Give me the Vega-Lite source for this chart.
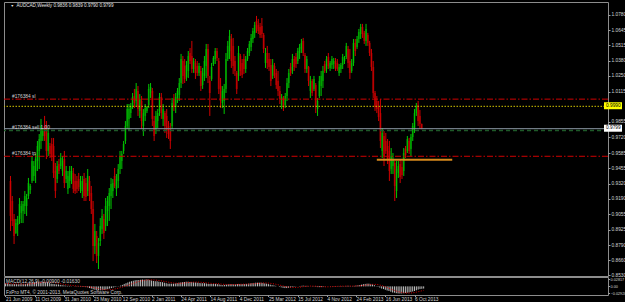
{
"$schema":"https://vega.github.io/schema/vega-lite/v6.json",
"background":"#000000",
"padding":{"left":2,"top":1,"right":0,"bottom":0},
"bounds":"flush",
"spacing":1,
"config":{"view":{"stroke":"#8c8c8c","strokeWidth":1},"font":"Liberation Sans","axis":{"labelFont":"Liberation Sans","labelFontSize":4.8,"labelColor":"#d4d4d4","tickColor":"#a0a0a0","domain":false,"grid":false,"labelOverlap":false,"labelFlush":false,"labelBound":false},"text":{"font":"Liberation Sans"}},
"datasets":{"w":[
{"d":"2009-06-21","o":0.9344,"h":0.9387,"l":0.8912,"c":0.9042,"m":0.012,"s":0.011},
{"d":"2009-06-28","o":0.9171,"h":0.9214,"l":0.8955,"c":0.8999,"m":0.012,"s":0.011},
{"d":"2009-07-05","o":0.9016,"h":0.9059,"l":0.8800,"c":0.8869,"m":0.010,"s":0.011},
{"d":"2009-07-12","o":0.8895,"h":0.9016,"l":0.8887,"c":0.8981,"m":0.009,"s":0.011},
{"d":"2009-07-19","o":0.8964,"h":0.9042,"l":0.8869,"c":0.9016,"m":0.009,"s":0.010},
{"d":"2009-07-26","o":0.9016,"h":0.9197,"l":0.8973,"c":0.9145,"m":0.009,"s":0.010},
{"d":"2009-08-02","o":0.9068,"h":0.9171,"l":0.8981,"c":0.9128,"m":0.009,"s":0.010},
{"d":"2009-08-09","o":0.9085,"h":0.9171,"l":0.8981,"c":0.9145,"m":0.009,"s":0.010},
{"d":"2009-08-16","o":0.9128,"h":0.9257,"l":0.9059,"c":0.9214,"m":0.009,"s":0.010},
{"d":"2009-08-23","o":0.9128,"h":0.9232,"l":0.9042,"c":0.9197,"m":0.009,"s":0.0094},
{"d":"2009-08-30","o":0.9214,"h":0.9370,"l":0.9188,"c":0.9326,"m":0.010,"s":0.0092},
{"d":"2009-09-06","o":0.9266,"h":0.9318,"l":0.9232,"c":0.9301,"m":0.010,"s":0.0092},
{"d":"2009-09-13","o":0.9344,"h":0.9559,"l":0.9326,"c":0.9516,"m":0.011,"s":0.0094},
{"d":"2009-09-20","o":0.9387,"h":0.9516,"l":0.9344,"c":0.9473,"m":0.013,"s":0.0099},
{"d":"2009-09-27","o":0.9430,"h":0.9577,"l":0.9326,"c":0.9533,"m":0.014,"s":0.0104},
{"d":"2009-10-04","o":0.9516,"h":0.9689,"l":0.9430,"c":0.9646,"m":0.016,"s":0.0112},
{"d":"2009-10-11","o":0.9603,"h":0.9749,"l":0.9447,"c":0.9706,"m":0.017,"s":0.0121},
{"d":"2009-10-18","o":0.9689,"h":0.9879,"l":0.9620,"c":0.9818,"m":0.019,"s":0.0132},
{"d":"2009-10-25","o":0.9732,"h":0.9801,"l":0.9689,"c":0.9775,"m":0.019,"s":0.0143},
{"d":"2009-11-01","o":0.9818,"h":0.9905,"l":0.9689,"c":0.9732,"m":0.019,"s":0.0153},
{"d":"2009-11-08","o":0.9792,"h":0.9861,"l":0.9533,"c":0.9603,"m":0.018,"s":0.0162},
{"d":"2009-11-15","o":0.9603,"h":0.9801,"l":0.9559,"c":0.9758,"m":0.018,"s":0.0170},
{"d":"2009-11-22","o":0.9646,"h":0.9672,"l":0.9542,"c":0.9577,"m":0.017,"s":0.0174},
{"d":"2009-11-29","o":0.9663,"h":0.9715,"l":0.9516,"c":0.9559,"m":0.016,"s":0.0177},
{"d":"2009-12-06","o":0.9646,"h":0.9715,"l":0.9370,"c":0.9413,"m":0.014,"s":0.0174},
{"d":"2009-12-13","o":0.9430,"h":0.9499,"l":0.9197,"c":0.9257,"m":0.011,"s":0.0168},
{"d":"2009-12-20","o":0.9361,"h":0.9516,"l":0.9326,"c":0.9473,"m":0.010,"s":0.0158},
{"d":"2009-12-27","o":0.9490,"h":0.9533,"l":0.9404,"c":0.9430,"m":0.009,"s":0.0147},
{"d":"2010-01-03","o":0.9473,"h":0.9585,"l":0.9447,"c":0.9542,"m":0.008,"s":0.0134},
{"d":"2010-01-10","o":0.9430,"h":0.9559,"l":0.9387,"c":0.9516,"m":0.008,"s":0.0123},
{"d":"2010-01-17","o":0.9533,"h":0.9603,"l":0.9283,"c":0.9326,"m":0.006,"s":0.011},
{"d":"2010-01-24","o":0.9361,"h":0.9473,"l":0.9326,"c":0.9430,"m":0.005,"s":0.0097},
{"d":"2010-01-31","o":0.9275,"h":0.9430,"l":0.9232,"c":0.9387,"m":0.004,"s":0.0083},
{"d":"2010-02-07","o":0.9344,"h":0.9473,"l":0.9283,"c":0.9430,"m":0.003,"s":0.0071},
{"d":"2010-02-14","o":0.9361,"h":0.9473,"l":0.9318,"c":0.9430,"m":0.002,"s":0.0061},
{"d":"2010-02-21","o":0.9413,"h":0.9456,"l":0.9240,"c":0.9275,"m":0.002,"s":0.0052},
{"d":"2010-02-28","o":0.9344,"h":0.9404,"l":0.9232,"c":0.9257,"m":0.001,"s":0.0043},
{"d":"2010-03-07","o":0.9344,"h":0.9387,"l":0.9240,"c":0.9275,"m":0.0,"s":0.0034},
{"d":"2010-03-14","o":0.9361,"h":0.9413,"l":0.9257,"c":0.9292,"m":-0.001,"s":0.0024},
{"d":"2010-03-21","o":0.9275,"h":0.9387,"l":0.9240,"c":0.9344,"m":-0.001,"s":0.0017},
{"d":"2010-03-28","o":0.9257,"h":0.9387,"l":0.9197,"c":0.9344,"m":-0.001,"s":0.001},
{"d":"2010-04-04","o":0.9361,"h":0.9413,"l":0.9171,"c":0.9214,"m":-0.002,"s":0.0003},
{"d":"2010-04-11","o":0.9326,"h":0.9370,"l":0.9171,"c":0.9206,"m":-0.002,"s":-0.0002},
{"d":"2010-04-18","o":0.9257,"h":0.9447,"l":0.9214,"c":0.9387,"m":-0.002,"s":-0.0007},
{"d":"2010-04-25","o":0.9344,"h":0.9387,"l":0.9171,"c":0.9214,"m":-0.003,"s":-0.0012},
{"d":"2010-05-02","o":0.9240,"h":0.9301,"l":0.9059,"c":0.9102,"m":-0.004,"s":-0.0018},
{"d":"2010-05-09","o":0.9102,"h":0.9171,"l":0.8653,"c":0.8783,"m":-0.007,"s":-0.0026},
{"d":"2010-05-16","o":0.8783,"h":0.8973,"l":0.8714,"c":0.8912,"m":-0.009,"s":-0.0034},
{"d":"2010-05-23","o":0.8869,"h":0.8912,"l":0.8636,"c":0.8697,"m":-0.012,"s":-0.0047},
{"d":"2010-05-30","o":0.8697,"h":0.8852,"l":0.8584,"c":0.8809,"m":-0.014,"s":-0.0061},
{"d":"2010-06-06","o":0.8826,"h":0.9024,"l":0.8783,"c":0.8955,"m":-0.015,"s":-0.0076},
{"d":"2010-06-13","o":0.8930,"h":0.9102,"l":0.8887,"c":0.9042,"m":-0.016,"s":-0.0091},
{"d":"2010-06-20","o":0.9016,"h":0.9059,"l":0.8843,"c":0.8895,"m":-0.016,"s":-0.0107},
{"d":"2010-06-27","o":0.8955,"h":0.9197,"l":0.8912,"c":0.9128,"m":-0.016,"s":-0.0121},
{"d":"2010-07-04","o":0.9085,"h":0.9214,"l":0.8955,"c":0.9171,"m":-0.015,"s":-0.0133},
{"d":"2010-07-11","o":0.9128,"h":0.9283,"l":0.8999,"c":0.9240,"m":-0.013,"s":-0.014},
{"d":"2010-07-18","o":0.9214,"h":0.9370,"l":0.9102,"c":0.9318,"m":-0.011,"s":-0.0142},
{"d":"2010-07-25","o":0.9257,"h":0.9361,"l":0.9197,"c":0.9326,"m":-0.009,"s":-0.0139},
{"d":"2010-08-01","o":0.9387,"h":0.9456,"l":0.9283,"c":0.9301,"m":-0.007,"s":-0.0131},
{"d":"2010-08-08","o":0.9275,"h":0.9404,"l":0.9214,"c":0.9361,"m":-0.005,"s":-0.012},
{"d":"2010-08-15","o":0.9344,"h":0.9490,"l":0.9283,"c":0.9447,"m":-0.003,"s":-0.0106},
{"d":"2010-08-22","o":0.9447,"h":0.9603,"l":0.9404,"c":0.9559,"m":-0.001,"s":-0.0089},
{"d":"2010-08-29","o":0.9516,"h":0.9603,"l":0.9447,"c":0.9577,"m":0.001,"s":-0.007},
{"d":"2010-09-05","o":0.9603,"h":0.9689,"l":0.9577,"c":0.9663,"m":0.003,"s":-0.005},
{"d":"2010-09-12","o":0.9689,"h":0.9861,"l":0.9663,"c":0.9818,"m":0.006,"s":-0.0029},
{"d":"2010-09-19","o":0.9818,"h":1.0008,"l":0.9792,"c":0.9965,"m":0.010,"s":-0.0006},
{"d":"2010-09-26","o":0.9879,"h":1.0008,"l":0.9775,"c":0.9965,"m":0.013,"s":0.0019},
{"d":"2010-10-03","o":0.9930,"h":1.0017,"l":0.9887,"c":0.9991,"m":0.016,"s":0.0044},
{"d":"2010-10-10","o":0.9991,"h":1.0103,"l":0.9965,"c":1.0069,"m":0.019,"s":0.0071},
{"d":"2010-10-17","o":1.0077,"h":1.0138,"l":0.9973,"c":1.0017,"m":0.021,"s":0.0098},
{"d":"2010-10-24","o":1.0034,"h":1.0189,"l":0.9991,"c":1.0138,"m":0.023,"s":0.0124},
{"d":"2010-10-31","o":1.0120,"h":1.0163,"l":0.9905,"c":0.9965,"m":0.025,"s":0.0151},
{"d":"2010-11-07","o":0.9948,"h":1.0094,"l":0.9887,"c":1.0051,"m":0.026,"s":0.0177},
{"d":"2010-11-14","o":1.0034,"h":1.0077,"l":0.9792,"c":0.9861,"m":0.026,"s":0.0199},
{"d":"2010-11-21","o":0.9818,"h":0.9965,"l":0.9732,"c":0.9930,"m":0.027,"s":0.0218},
{"d":"2010-11-28","o":0.9905,"h":1.0008,"l":0.9861,"c":0.9973,"m":0.028,"s":0.0234},
{"d":"2010-12-05","o":0.9948,"h":0.9991,"l":0.9930,"c":0.9982,"m":0.027,"s":0.0247},
{"d":"2010-12-12","o":0.9999,"h":1.0181,"l":0.9973,"c":1.0138,"m":0.02817,"s":0.0257},
{"d":"2010-12-19","o":1.0103,"h":1.0189,"l":1.0060,"c":1.0155,"m":0.028,"s":0.0264},
{"d":"2010-12-26","o":1.0120,"h":1.0146,"l":0.9818,"c":0.9879,"m":0.026,"s":0.0268},
{"d":"2011-01-02","o":0.9861,"h":0.9905,"l":0.9689,"c":0.9732,"m":0.024,"s":0.0267},
{"d":"2011-01-09","o":0.9792,"h":0.9948,"l":0.9749,"c":0.9905,"m":0.022,"s":0.0262},
{"d":"2011-01-16","o":0.9861,"h":0.9965,"l":0.9801,"c":0.9930,"m":0.021,"s":0.0257},
{"d":"2011-01-23","o":0.9948,"h":1.0103,"l":0.9905,"c":1.0069,"m":0.021,"s":0.025},
{"d":"2011-01-30","o":1.0069,"h":1.0103,"l":0.9879,"c":0.9930,"m":0.019,"s":0.024},
{"d":"2011-02-06","o":0.9879,"h":1.0008,"l":0.9818,"c":0.9965,"m":0.018,"s":0.023},
{"d":"2011-02-13","o":0.9930,"h":0.9948,"l":0.9758,"c":0.9818,"m":0.017,"s":0.0218},
{"d":"2011-02-20","o":0.9905,"h":0.9965,"l":0.9715,"c":0.9775,"m":0.015,"s":0.0203},
{"d":"2011-02-27","o":0.9818,"h":0.9861,"l":0.9706,"c":0.9749,"m":0.013,"s":0.0189},
{"d":"2011-03-06","o":0.9792,"h":0.9844,"l":0.9620,"c":0.9689,"m":0.011,"s":0.0174},
{"d":"2011-03-13","o":0.9818,"h":1.0060,"l":0.9792,"c":1.0017,"m":0.011,"s":0.0162},
{"d":"2011-03-20","o":1.0051,"h":1.0094,"l":0.9948,"c":0.9982,"m":0.011,"s":0.0151},
{"d":"2011-03-27","o":0.9982,"h":1.0103,"l":0.9930,"c":1.0069,"m":0.011,"s":0.014},
{"d":"2011-04-03","o":1.0051,"h":1.0146,"l":1.0017,"c":1.0120,"m":0.012,"s":0.0132},
{"d":"2011-04-10","o":1.0086,"h":1.0232,"l":1.0034,"c":1.0189,"m":0.013,"s":0.0127},
{"d":"2011-04-17","o":1.0189,"h":1.0440,"l":1.0146,"c":1.0396,"m":0.015,"s":0.0124},
{"d":"2011-04-24","o":1.0379,"h":1.0422,"l":1.0181,"c":1.0250,"m":0.016,"s":0.0126},
{"d":"2011-05-01","o":1.0336,"h":1.0396,"l":1.0189,"c":1.0224,"m":0.017,"s":0.013},
{"d":"2011-05-08","o":1.0241,"h":1.0379,"l":1.0207,"c":1.0345,"m":0.018,"s":0.0138},
{"d":"2011-05-15","o":1.0293,"h":1.0465,"l":1.0232,"c":1.0422,"m":0.019,"s":0.0147},
{"d":"2011-05-22","o":1.0448,"h":1.0491,"l":1.0353,"c":1.0379,"m":0.019,"s":0.0156},
{"d":"2011-05-29","o":1.0422,"h":1.0552,"l":1.0276,"c":1.0310,"m":0.018,"s":0.0163},
{"d":"2011-06-05","o":1.0310,"h":1.0405,"l":1.0276,"c":1.0379,"m":0.018,"s":0.017},
{"d":"2011-06-12","o":1.0362,"h":1.0396,"l":1.0224,"c":1.0276,"m":0.017,"s":0.0174},
{"d":"2011-06-19","o":1.0336,"h":1.0379,"l":1.0250,"c":1.0276,"m":0.016,"s":0.0176},
{"d":"2011-06-26","o":1.0276,"h":1.0362,"l":1.0250,"c":1.0336,"m":0.015,"s":0.0174},
{"d":"2011-07-03","o":1.0293,"h":1.0336,"l":1.0120,"c":1.0163,"m":0.014,"s":0.0171},
{"d":"2011-07-10","o":1.0172,"h":1.0319,"l":1.0138,"c":1.0276,"m":0.013,"s":0.0166},
{"d":"2011-07-17","o":1.0250,"h":1.0422,"l":1.0207,"c":1.0379,"m":0.013,"s":0.0159},
{"d":"2011-07-24","o":1.0336,"h":1.0526,"l":1.0232,"c":1.0483,"m":0.013,"s":0.0152},
{"d":"2011-07-31","o":1.0483,"h":1.0526,"l":1.0189,"c":1.0250,"m":0.012,"s":0.0146},
{"d":"2011-08-07","o":1.0207,"h":1.0250,"l":0.9905,"c":1.0103,"m":0.010,"s":0.0137},
{"d":"2011-08-14","o":1.0224,"h":1.0362,"l":1.0207,"c":1.0327,"m":0.010,"s":0.0129},
{"d":"2011-08-21","o":1.0353,"h":1.0422,"l":1.0336,"c":1.0405,"m":0.010,"s":0.0122},
{"d":"2011-08-28","o":1.0396,"h":1.0491,"l":1.0353,"c":1.0465,"m":0.010,"s":0.0117},
{"d":"2011-09-04","o":1.0465,"h":1.0491,"l":1.0379,"c":1.0405,"m":0.010,"s":0.0112},
{"d":"2011-09-11","o":1.0379,"h":1.0405,"l":1.0094,"c":1.0138,"m":0.009,"s":0.0108},
{"d":"2011-09-18","o":1.0163,"h":1.0232,"l":0.9973,"c":1.0034,"m":0.008,"s":0.0102},
{"d":"2011-09-25","o":1.0017,"h":1.0163,"l":0.9973,"c":1.0120,"m":0.006,"s":0.0094},
{"d":"2011-10-02","o":1.0034,"h":1.0181,"l":0.9922,"c":1.0138,"m":0.005,"s":0.0087},
{"d":"2011-10-09","o":1.0138,"h":1.0448,"l":1.0103,"c":1.0396,"m":0.006,"s":0.0082},
{"d":"2011-10-16","o":1.0396,"h":1.0552,"l":1.0379,"c":1.0509,"m":0.007,"s":0.0079},
{"d":"2011-10-23","o":1.0465,"h":1.0647,"l":1.0396,"c":1.0595,"m":0.009,"s":0.0078},
{"d":"2011-10-30","o":1.0569,"h":1.0612,"l":1.0319,"c":1.0379,"m":0.009,"s":0.0077},
{"d":"2011-11-06","o":1.0509,"h":1.0578,"l":1.0267,"c":1.0336,"m":0.009,"s":0.0076},
{"d":"2011-11-13","o":1.0379,"h":1.0422,"l":1.0250,"c":1.0293,"m":0.009,"s":0.0076},
{"d":"2011-11-20","o":1.0276,"h":1.0293,"l":1.0094,"c":1.0138,"m":0.008,"s":0.0076},
{"d":"2011-11-27","o":1.0250,"h":1.0509,"l":1.0207,"c":1.0448,"m":0.009,"s":0.0079},
{"d":"2011-12-04","o":1.0422,"h":1.0440,"l":1.0250,"c":1.0293,"m":0.009,"s":0.0083},
{"d":"2011-12-11","o":1.0362,"h":1.0396,"l":1.0232,"c":1.0258,"m":0.009,"s":0.0087},
{"d":"2011-12-18","o":1.0396,"h":1.0440,"l":1.0267,"c":1.0310,"m":0.009,"s":0.0089},
{"d":"2011-12-25","o":1.0310,"h":1.0422,"l":1.0276,"c":1.0396,"m":0.009,"s":0.0089},
{"d":"2012-01-01","o":1.0396,"h":1.0491,"l":1.0379,"c":1.0465,"m":0.010,"s":0.009},
{"d":"2012-01-08","o":1.0448,"h":1.0552,"l":1.0422,"c":1.0526,"m":0.011,"s":0.0092},
{"d":"2012-01-15","o":1.0500,"h":1.0612,"l":1.0465,"c":1.0578,"m":0.012,"s":0.0096},
{"d":"2012-01-22","o":1.0569,"h":1.0664,"l":1.0535,"c":1.0638,"m":0.013,"s":0.0101},
{"d":"2012-01-29","o":1.0621,"h":1.0716,"l":1.0578,"c":1.0690,"m":0.014,"s":0.0107},
{"d":"2012-02-05","o":1.0724,"h":1.0768,"l":1.0621,"c":1.0655,"m":0.015,"s":0.0113},
{"d":"2012-02-12","o":1.0690,"h":1.0742,"l":1.0612,"c":1.0638,"m":0.015,"s":0.012},
{"d":"2012-02-19","o":1.0673,"h":1.0707,"l":1.0578,"c":1.0604,"m":0.015,"s":0.0127},
{"d":"2012-02-26","o":1.0681,"h":1.0750,"l":1.0578,"c":1.0612,"m":0.015,"s":0.0133},
{"d":"2012-03-04","o":1.0604,"h":1.0621,"l":1.0448,"c":1.0483,"m":0.014,"s":0.0138},
{"d":"2012-03-11","o":1.0362,"h":1.0491,"l":1.0319,"c":1.0448,"m":0.012,"s":0.0139},
{"d":"2012-03-18","o":1.0448,"h":1.0509,"l":1.0310,"c":1.0362,"m":0.011,"s":0.0138},
{"d":"2012-03-25","o":1.0396,"h":1.0448,"l":1.0293,"c":1.0327,"m":0.009,"s":0.0133},
{"d":"2012-04-01","o":1.0345,"h":1.0396,"l":1.0163,"c":1.0207,"m":0.007,"s":0.0126},
{"d":"2012-04-08","o":1.0250,"h":1.0396,"l":1.0224,"c":1.0345,"m":0.005,"s":0.0114},
{"d":"2012-04-15","o":1.0336,"h":1.0362,"l":1.0232,"c":1.0258,"m":0.004,"s":0.0102},
{"d":"2012-04-22","o":1.0276,"h":1.0310,"l":1.0138,"c":1.0172,"m":0.002,"s":0.0088},
{"d":"2012-04-29","o":1.0207,"h":1.0293,"l":1.0077,"c":1.0120,"m":0.0,"s":0.0071},
{"d":"2012-05-06","o":1.0120,"h":1.0163,"l":1.0008,"c":1.0051,"m":-0.002,"s":0.0053},
{"d":"2012-05-13","o":0.9999,"h":1.0094,"l":0.9965,"c":1.0069,"m":-0.004,"s":0.0036},
{"d":"2012-05-20","o":1.0060,"h":1.0077,"l":0.9948,"c":0.9982,"m":-0.006,"s":0.0017},
{"d":"2012-05-27","o":0.9999,"h":1.0103,"l":0.9973,"c":1.0077,"m":-0.007,"s":-0.0001},
{"d":"2012-06-03","o":1.0077,"h":1.0232,"l":1.0034,"c":1.0189,"m":-0.007,"s":-0.0017},
{"d":"2012-06-10","o":1.0189,"h":1.0310,"l":1.0146,"c":1.0276,"m":-0.006,"s":-0.0029},
{"d":"2012-06-17","o":1.0327,"h":1.0362,"l":1.0250,"c":1.0276,"m":-0.005,"s":-0.0039},
{"d":"2012-06-24","o":1.0293,"h":1.0440,"l":1.0267,"c":1.0396,"m":-0.003,"s":-0.0044},
{"d":"2012-07-01","o":1.0396,"h":1.0422,"l":1.0293,"c":1.0327,"m":-0.002,"s":-0.0047},
{"d":"2012-07-08","o":1.0414,"h":1.0448,"l":1.0319,"c":1.0353,"m":-0.001,"s":-0.0046},
{"d":"2012-07-15","o":1.0379,"h":1.0491,"l":1.0353,"c":1.0465,"m":0.0,"s":-0.0041},
{"d":"2012-07-22","o":1.0448,"h":1.0526,"l":1.0396,"c":1.0500,"m":0.001,"s":-0.0033},
{"d":"2012-07-29","o":1.0483,"h":1.0569,"l":1.0448,"c":1.0535,"m":0.002,"s":-0.0023},
{"d":"2012-08-05","o":1.0552,"h":1.0578,"l":1.0422,"c":1.0448,"m":0.003,"s":-0.0012},
{"d":"2012-08-12","o":1.0431,"h":1.0448,"l":1.0276,"c":1.0310,"m":0.002,"s":-0.0003},
{"d":"2012-08-19","o":1.0310,"h":1.0422,"l":1.0276,"c":1.0396,"m":0.002,"s":0.0004},
{"d":"2012-08-26","o":1.0327,"h":1.0336,"l":1.0163,"c":1.0207,"m":0.001,"s":0.0009},
{"d":"2012-09-02","o":1.0120,"h":1.0250,"l":1.0060,"c":1.0207,"m":0.0,"s":0.0011},
{"d":"2012-09-09","o":1.0207,"h":1.0224,"l":1.0077,"c":1.0103,"m":-0.001,"s":0.0011},
{"d":"2012-09-16","o":1.0138,"h":1.0250,"l":1.0120,"c":1.0224,"m":-0.001,"s":0.001},
{"d":"2012-09-23","o":1.0172,"h":1.0189,"l":0.9930,"c":0.9991,"m":-0.002,"s":0.0007},
{"d":"2012-09-30","o":0.9965,"h":1.0060,"l":0.9905,"c":1.0034,"m":-0.003,"s":0.0001},
{"d":"2012-10-07","o":1.0077,"h":1.0250,"l":1.0060,"c":1.0207,"m":-0.003,"s":-0.0006},
{"d":"2012-10-14","o":1.0163,"h":1.0293,"l":1.0077,"c":1.0250,"m":-0.003,"s":-0.0011},
{"d":"2012-10-21","o":1.0207,"h":1.0336,"l":1.0146,"c":1.0293,"m":-0.002,"s":-0.0016},
{"d":"2012-10-28","o":1.0353,"h":1.0379,"l":1.0276,"c":1.0293,"m":-0.001,"s":-0.0018},
{"d":"2012-11-04","o":1.0310,"h":1.0422,"l":1.0276,"c":1.0396,"m":0.0,"s":-0.0018},
{"d":"2012-11-11","o":1.0414,"h":1.0448,"l":1.0310,"c":1.0336,"m":0.0,"s":-0.0017},
{"d":"2012-11-18","o":1.0319,"h":1.0379,"l":1.0293,"c":1.0362,"m":0.001,"s":-0.0014},
{"d":"2012-11-25","o":1.0345,"h":1.0422,"l":1.0310,"c":1.0396,"m":0.001,"s":-0.0011},
{"d":"2012-12-02","o":1.0353,"h":1.0405,"l":1.0310,"c":1.0379,"m":0.001,"s":-0.0007},
{"d":"2012-12-09","o":1.0379,"h":1.0405,"l":1.0293,"c":1.0319,"m":0.001,"s":-0.0002},
{"d":"2012-12-16","o":1.0362,"h":1.0396,"l":1.0293,"c":1.0310,"m":0.001,"s":0.0002},
{"d":"2012-12-23","o":1.0276,"h":1.0353,"l":1.0250,"c":1.0327,"m":0.001,"s":0.0006},
{"d":"2012-12-30","o":1.0310,"h":1.0362,"l":1.0276,"c":1.0345,"m":0.001,"s":0.0008},
{"d":"2013-01-06","o":1.0345,"h":1.0440,"l":1.0310,"c":1.0414,"m":0.001,"s":0.0009},
{"d":"2013-01-13","o":1.0379,"h":1.0422,"l":1.0353,"c":1.0405,"m":0.001,"s":0.001},
{"d":"2013-01-20","o":1.0414,"h":1.0535,"l":1.0396,"c":1.0509,"m":0.002,"s":0.0011},
{"d":"2013-01-27","o":1.0483,"h":1.0509,"l":1.0319,"c":1.0362,"m":0.002,"s":0.0012},
{"d":"2013-02-03","o":1.0379,"h":1.0483,"l":1.0224,"c":1.0276,"m":0.001,"s":0.0012},
{"d":"2013-02-10","o":1.0293,"h":1.0396,"l":1.0276,"c":1.0362,"m":0.001,"s":0.0012},
{"d":"2013-02-17","o":1.0362,"h":1.0569,"l":1.0336,"c":1.0535,"m":0.002,"s":0.0013},
{"d":"2013-02-24","o":1.0535,"h":1.0569,"l":1.0422,"c":1.0465,"m":0.003,"s":0.0016},
{"d":"2013-03-03","o":1.0500,"h":1.0595,"l":1.0483,"c":1.0569,"m":0.004,"s":0.0019},
{"d":"2013-03-10","o":1.0569,"h":1.0655,"l":1.0535,"c":1.0629,"m":0.005,"s":0.0023},
{"d":"2013-03-17","o":1.0612,"h":1.0699,"l":1.0569,"c":1.0673,"m":0.007,"s":0.003},
{"d":"2013-03-24","o":1.0673,"h":1.0699,"l":1.0578,"c":1.0612,"m":0.009,"s":0.0038},
{"d":"2013-03-31","o":1.0621,"h":1.0638,"l":1.0526,"c":1.0552,"m":0.010,"s":0.0047},
{"d":"2013-04-07","o":1.0552,"h":1.0699,"l":1.0509,"c":1.0655,"m":0.011,"s":0.0058},
{"d":"2013-04-14","o":1.0604,"h":1.0621,"l":1.0509,"c":1.0535,"m":0.011,"s":0.0069},
{"d":"2013-04-21","o":1.0535,"h":1.0552,"l":1.0422,"c":1.0448,"m":0.010,"s":0.0078},
{"d":"2013-04-28","o":1.0448,"h":1.0483,"l":1.0293,"c":1.0327,"m":0.008,"s":0.0083},
{"d":"2013-05-05","o":1.0327,"h":1.0379,"l":1.0060,"c":1.0103,"m":0.005,"s":0.0084},
{"d":"2013-05-12","o":1.0103,"h":1.0120,"l":0.9948,"c":0.9982,"m":0.001,"s":0.008},
{"d":"2013-05-19","o":1.0034,"h":1.0077,"l":0.9930,"c":0.9965,"m":-0.002,"s":0.007},
{"d":"2013-05-26","o":0.9982,"h":1.0034,"l":0.9861,"c":0.9896,"m":-0.005,"s":0.0054},
{"d":"2013-06-02","o":0.9930,"h":1.0051,"l":0.9628,"c":0.9689,"m":-0.009,"s":0.0033},
{"d":"2013-06-09","o":0.9603,"h":0.9801,"l":0.9542,"c":0.9758,"m":-0.011,"s":0.0009},
{"d":"2013-06-16","o":0.9732,"h":0.9775,"l":0.9473,"c":0.9559,"m":-0.014,"s":-0.0019},
{"d":"2013-06-23","o":0.9689,"h":0.9758,"l":0.9577,"c":0.9603,"m":-0.017,"s":-0.0049},
{"d":"2013-06-30","o":0.9646,"h":0.9706,"l":0.9490,"c":0.9533,"m":-0.019,"s":-0.0079},
{"d":"2013-07-07","o":0.9603,"h":0.9689,"l":0.9344,"c":0.9430,"m":-0.022,"s":-0.0109},
{"d":"2013-07-14","o":0.9447,"h":0.9628,"l":0.9404,"c":0.9559,"m":-0.025,"s":-0.0138},
{"d":"2013-07-21","o":0.9473,"h":0.9585,"l":0.9404,"c":0.9533,"m":-0.026,"s":-0.0164},
{"d":"2013-07-28","o":0.9499,"h":0.9516,"l":0.9171,"c":0.9301,"m":-0.028,"s":-0.019},
{"d":"2013-08-04","o":0.9257,"h":0.9516,"l":0.9197,"c":0.9447,"m":-0.029,"s":-0.0212},
{"d":"2013-08-11","o":0.9413,"h":0.9516,"l":0.9370,"c":0.9473,"m":-0.0292,"s":-0.0232},
{"d":"2013-08-18","o":0.9490,"h":0.9533,"l":0.9326,"c":0.9378,"m":-0.029,"s":-0.0249},
{"d":"2013-08-25","o":0.9464,"h":0.9516,"l":0.9361,"c":0.9395,"m":-0.028,"s":-0.0261},
{"d":"2013-09-01","o":0.9430,"h":0.9628,"l":0.9387,"c":0.9585,"m":-0.027,"s":-0.027},
{"d":"2013-09-08","o":0.9620,"h":0.9646,"l":0.9542,"c":0.9568,"m":-0.026,"s":-0.0274},
{"d":"2013-09-15","o":0.9603,"h":0.9732,"l":0.9585,"c":0.9706,"m":-0.025,"s":-0.0274},
{"d":"2013-09-22","o":0.9689,"h":0.9715,"l":0.9577,"c":0.9603,"m":-0.023,"s":-0.0271},
{"d":"2013-09-29","o":0.9620,"h":0.9749,"l":0.9559,"c":0.9723,"m":-0.021,"s":-0.0263},
{"d":"2013-10-06","o":0.9723,"h":0.9844,"l":0.9689,"c":0.9818,"m":-0.019,"s":-0.0252},
{"d":"2013-10-13","o":0.9792,"h":0.9965,"l":0.9758,"c":0.9930,"m":-0.016,"s":-0.0238},
{"d":"2013-10-20","o":0.9930,"h":1.0017,"l":0.9905,"c":0.9991,"m":-0.013,"s":-0.022},
{"d":"2013-10-27","o":0.9999,"h":1.0034,"l":0.9818,"c":0.9861,"m":-0.011,"s":-0.0201},
{"d":"2013-11-03","o":0.9905,"h":0.9956,"l":0.9792,"c":0.9836,"m":-0.010,"s":-0.0182},
{"d":"2013-11-10","o":0.9836,"h":0.9839,"l":0.9790,"c":0.9799,"m":-0.009,"s":-0.0163}
]},
"vconcat":[
{
"width":604,"height":274,
"data":{"name":"w"},
"resolve":{"axis":{"x":"independent","y":"independent"}},
"layer":[
{"mark":{"type":"bar","width":2},
 "encoding":{
  "x":{"field":"d","type":"temporal","scale":{"type":"utc","domain":[{"year":2009,"month":6,"date":15,"hours":6,"utc":true},{"year":2015,"month":10,"date":17,"hours":15,"minutes":36,"utc":true}]},"axis":null},
  "y":{"field":"o","type":"quantitative","title":null,"scale":{"domain":[0.8524,1.0888],"nice":false,"zero":false},
       "axis":{"orient":"right","values":[1.078,1.0645,1.0515,1.038,1.025,1.0115,0.9855,0.972,0.9585,0.9455,0.932,0.919,0.9055,0.8925,0.879,0.866,0.853],"format":".4f","tickSize":2,"labelPadding":1,"labelOverlap":false,"labelFlush":false,"labelBound":false,"labelSeparation":0,"title":null}},
  "y2":{"field":"c"},
  "color":{"condition":{"test":"datum.c >= datum.o","value":"#006000"},"value":"#7a0000"}}},
{"mark":{"type":"rule","strokeWidth":1},
 "encoding":{
  "x":{"field":"d","type":"temporal","axis":null},
  "y":{"field":"l","type":"quantitative","axis":null},
  "y2":{"field":"h"},
  "color":{"condition":{"test":"datum.c >= datum.o","value":"#00c800"},"value":"#d20000"}}},
{"data":{"values":[{"p":1.005}]},"mark":{"type":"rule","color":"#d00000","strokeWidth":1,"strokeDash":[6,2,1.5,2]},"encoding":{"y":{"field":"p","type":"quantitative","axis":null}}},
{"data":{"values":[{"p":0.9557}]},"mark":{"type":"rule","color":"#d00000","strokeWidth":1,"strokeDash":[6,2,1.5,2]},"encoding":{"y":{"field":"p","type":"quantitative","axis":null}}},
{"data":{"values":[{"p":0.9988}]},"mark":{"type":"rule","color":"#d2c400","strokeWidth":1,"strokeDash":[1.5,1.5]},"encoding":{"y":{"field":"p","type":"quantitative","axis":null}}},
{"data":{"values":[{"p":0.978}]},"mark":{"type":"rule","color":"#1e5a28","strokeWidth":1.5,"strokeDash":[4,3]},"encoding":{"y":{"field":"p","type":"quantitative","axis":null}}},
{"data":{"values":[{"p":0.9795}]},"mark":{"type":"rule","color":"#8a96a2","strokeWidth":1},"encoding":{"y":{"field":"p","type":"quantitative","axis":null}}},
{"data":{"values":[{"a":"2013-05-19","b":"2014-03-09","p":0.9527}]},"mark":{"type":"rule","color":"#d88a1c","strokeWidth":2},
 "encoding":{"x":{"field":"a","type":"temporal","axis":null},"x2":{"field":"b"},"y":{"field":"p","type":"quantitative","axis":null}}},
{"data":{"values":[{"p":1.005,"t":"#176384 sl"},{"p":0.978,"t":"#176384 sell 1.00"},{"p":0.9557,"t":"#176384 tp"}]},
 "mark":{"type":"text","align":"left","baseline":"bottom","dx":3,"dy":-0.5,"fontSize":4.8,"color":"#cfcfcf"},
 "encoding":{"x":{"datum":{"year":2009,"month":6,"date":15,"hours":6,"utc":true},"type":"temporal","axis":null},"y":{"field":"p","type":"quantitative","axis":null},"text":{"field":"t"}}},
{"data":{"values":[{"t":"▼","p":1.0854}]},
 "mark":{"type":"text","align":"left","baseline":"middle","dx":1.5,"fontSize":3.6,"color":"#e6e6e6"},
 "encoding":{"x":{"datum":{"year":2009,"month":6,"date":15,"hours":6,"utc":true},"type":"temporal","axis":null},"y":{"field":"p","type":"quantitative","axis":null},"text":{"field":"t"}}},
{"data":{"values":[{"t":"AUDCAD,Weekly  0.9836 0.9839 0.9790 0.9799","p":1.0854}]},
 "mark":{"type":"text","align":"left","baseline":"middle","dx":7.5,"fontSize":4.6,"color":"#e6e6e6"},
 "encoding":{"x":{"datum":{"year":2009,"month":6,"date":15,"hours":6,"utc":true},"type":"temporal","axis":null},"y":{"field":"p","type":"quantitative","axis":null},"text":{"field":"t"}}},
{"data":{"values":[{"p":0.9993,"bg":"#ffff00"},{"p":0.9799,"bg":"#ffffff"}]},
 "mark":{"type":"rect","xOffset":1,"x2Offset":19,"yOffset":-3.5,"y2Offset":3.5},
 "encoding":{"x":{"datum":{"year":2015,"month":10,"date":17,"hours":15,"minutes":36,"utc":true},"type":"temporal","axis":null},"x2":{"datum":{"year":2015,"month":10,"date":17,"hours":15,"minutes":36,"utc":true}},
  "y":{"field":"p","type":"quantitative","axis":null},"y2":{"field":"p"},"color":{"field":"bg","type":"nominal","scale":null}}},
{"data":{"values":[{"p":0.9993,"t":"0.9990"},{"p":0.9799,"t":"0.9799"}]},
 "mark":{"type":"text","align":"left","baseline":"middle","dx":3,"fontSize":4.8,"color":"#000000"},
 "encoding":{"x":{"datum":{"year":2015,"month":10,"date":17,"hours":15,"minutes":36,"utc":true},"type":"temporal","axis":null},"y":{"field":"p","type":"quantitative","axis":null},"text":{"field":"t"}}}
]
},
{
"width":604,"height":18,
"data":{"name":"w"},
"resolve":{"axis":{"x":"independent","y":"independent"}},
"layer":[
{"mark":{"type":"rule","strokeWidth":1,"color":"#c0c0c0"},
 "encoding":{
  "x":{"field":"d","type":"temporal","scale":{"type":"utc","domain":[{"year":2009,"month":6,"date":15,"hours":6,"utc":true},{"year":2015,"month":10,"date":17,"hours":15,"minutes":36,"utc":true}]},
       "axis":{"values":[{"year":2009,"month":6,"date":21,"utc":true},{"year":2009,"month":10,"date":11,"utc":true},{"year":2010,"month":1,"date":31,"utc":true},{"year":2010,"month":5,"date":23,"utc":true},{"year":2010,"month":9,"date":12,"utc":true},{"year":2011,"month":1,"date":2,"utc":true},{"year":2011,"month":4,"date":24,"utc":true},{"year":2011,"month":8,"date":14,"utc":true},{"year":2011,"month":12,"date":4,"utc":true},{"year":2012,"month":3,"date":25,"utc":true},{"year":2012,"month":7,"date":15,"utc":true},{"year":2012,"month":11,"date":4,"utc":true},{"year":2013,"month":2,"date":24,"utc":true},{"year":2013,"month":6,"date":16,"utc":true},{"year":2013,"month":10,"date":6,"utc":true}],
       "format":"%-d %b %Y","labelAlign":"left","labelBaseline":"top","labelPadding":0,"tickSize":1.5,"labelOverlap":false,"labelFlush":false,"labelBound":false,"title":null}},
  "y":{"field":"m","type":"quantitative","title":null,"scale":{"domain":[-0.0354,0.0384],"nice":false,"zero":false},
       "axis":{"orient":"right","values":[0.02817,0,-0.0292],"labelExpr":"datum.value == 0 ? '0.00' : format(datum.value, '.5f')","tickSize":1.5,"labelPadding":0.5,"labelFontSize":3.8,"labelOverlap":false,"labelFlush":false,"labelBound":false,"title":null}},
  "y2":{"datum":0}}},
{"mark":{"type":"line","color":"#e00000","strokeWidth":1,"strokeDash":[1,1.5]},
 "encoding":{"x":{"field":"d","type":"temporal","axis":null},"y":{"field":"s","type":"quantitative","axis":null}}},
{"data":{"values":[{"t":"MACD(12,26,9) -0.00900 -0.01630","v":0.0199},{"t":"FxPro MT4, © 2001-2013, MetaQuotes Software Corp.","v":-0.0252}]},
 "mark":{"type":"text","align":"left","baseline":"middle","dx":2,"fontSize":4.8,"color":"#d0d0d0"},
 "encoding":{"x":{"datum":{"year":2009,"month":6,"date":15,"hours":6,"utc":true},"type":"temporal","axis":null},"y":{"field":"v","type":"quantitative","axis":null},"text":{"field":"t"}}}
]
}
]
}
